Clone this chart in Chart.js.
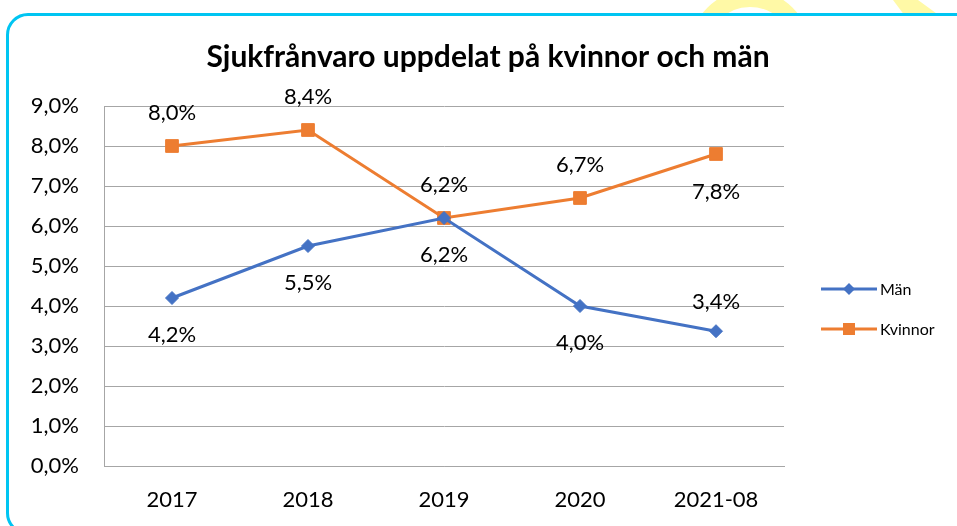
<!DOCTYPE html>
<html>
<head>
<meta charset="utf-8">
<script src="https://cdn.jsdelivr.net/npm/chart.js@4.4.1/dist/chart.umd.min.js"></script>
<style>
  html, body { margin: 0; padding: 0; background: #fff; overflow: hidden; }
  #wrap { position: relative; width: 957px; height: 526px; overflow: hidden; background: #fff; }
  .ring { position: absolute; left: 690px; top: -10px; width: 120px; height: 120px; border-radius: 50%;
          border: 17px solid #fff9a6; box-sizing: border-box; }
  .band { position: absolute; left: 880px; top: 0; width: 77px; height: 20px; background: #fff9a6;
          clip-path: polygon(13px 0, 38px 0, 60px 16px, 25px 16px); }
  #box { position: absolute; left: 6px; top: 13px; width: 975px; height: 522px; border: 3px solid #00c5f2;
         border-radius: 22px; background: #fff; box-sizing: border-box; }
  canvas { position: absolute; left: 0; top: 0; }
</style>
</head>
<body>
<div id="wrap">
  <div class="ring"></div>
  <div class="band"></div>
  <div id="box"></div>
  <canvas id="chart" width="957" height="526"></canvas>
</div>
<script>
const title = 'Sjukfrånvaro uppdelat på kvinnor och män';
const years = ['2017', '2018', '2019', '2020', '2021-08'];
const man = [4.2, 5.5, 6.2, 4.0, 3.37];
const kvinnor = [8.0, 8.4, 6.2, 6.7, 7.8];
const manPlace = ['below', 'below', 'below', 'below', 'above'];
const kvinnorPlace = ['above', 'above', 'above', 'above', 'below'];
const yTicks = [0, 1, 2, 3, 4, 5, 6, 7, 8, 9];

const FONT = 'Lato, "Open Sans", sans-serif';
const BLUE = '#4472c4';
const ORANGE = '#ed7d31';

function pct(v) { return v.toFixed(1).replace('.', ',') + '%'; }

// etiketter, titel och legend ritas här
const extras = {
  id: 'extras',
  afterDatasetsDraw(chart) {
    const ctx = chart.ctx;
    ctx.save();
    ctx.fillStyle = '#000';
    ctx.font = '22px ' + FONT;
    ctx.textAlign = 'center';
    ctx.textBaseline = 'middle';
    chart.data.datasets.forEach((ds, i) => {
      const meta = chart.getDatasetMeta(i);
      meta.data.forEach((pt, j) => {
        const up = ds.place[j] === 'above';
        const dy = up ? -ds.upOff : ds.downOff;
        ctx.fillText(pct(ds.data[j]), pt.x, pt.y + dy);
      });
    });

    ctx.font = 'bold 30px ' + FONT;
    ctx.fillText(title, 488, 57);

    // legend
    const items = [
      { label: 'Män', color: BLUE, shape: 'diamond', y: 289 },
      { label: 'Kvinnor', color: ORANGE, shape: 'square', y: 329 }
    ];
    ctx.font = '16px ' + FONT;
    ctx.textAlign = 'left';
    items.forEach(it => {
      ctx.strokeStyle = it.color;
      ctx.fillStyle = it.color;
      ctx.lineWidth = 3;
      ctx.beginPath();
      ctx.moveTo(821, it.y);
      ctx.lineTo(877, it.y);
      ctx.stroke();
      ctx.beginPath();
      if (it.shape === 'diamond') {
        ctx.moveTo(849 - 6, it.y); ctx.lineTo(849, it.y - 6);
        ctx.lineTo(849 + 6, it.y); ctx.lineTo(849, it.y + 6);
        ctx.closePath();
        ctx.fill();
      } else {
        ctx.fillRect(843, it.y - 6, 12, 12);
      }
      ctx.fillStyle = '#000';
      ctx.fillText(it.label, 880, it.y + 1);
    });
    ctx.restore();
  }
};

new Chart(document.getElementById('chart'), {
  type: 'line',
  data: {
    labels: years,
    datasets: [
      {
        label: 'Män', data: man, place: manPlace, upOff: 29, downOff: 37,
        borderColor: BLUE, backgroundColor: BLUE, borderWidth: 3,
        pointStyle: 'rectRot', pointRadius: 6.5, pointBorderWidth: 1,
        pointBackgroundColor: BLUE, pointBorderColor: BLUE, tension: 0
      },
      {
        label: 'Kvinnor', data: kvinnor, place: kvinnorPlace, upOff: 33, downOff: 38,
        borderColor: ORANGE, backgroundColor: ORANGE, borderWidth: 3,
        pointStyle: 'rect', pointRadius: 9, pointBorderWidth: 1,
        pointBackgroundColor: ORANGE, pointBorderColor: ORANGE, tension: 0
      }
    ]
  },
  options: {
    responsive: false,
    animation: false,
    layout: { padding: { top: 106, right: 173, left: 0, bottom: 0 } },
    plugins: {
      legend: { display: false },
      title: { display: false },
      tooltip: { enabled: false }
    },
    scales: {
      x: {
        offset: true,
        grid: { display: false, drawTicks: false },
        border: { display: true, color: '#a6a6a6', width: 1 },
        ticks: { color: '#000', font: { family: FONT, size: 22 }, padding: 21, maxRotation: 0 },
        afterFit(s) { s.height = 60; }
      },
      y: {
        min: 0, max: 9,
        afterBuildTicks(s) { s.ticks = yTicks.map(v => ({ value: v })); },
        grid: { color: '#a6a6a6', lineWidth: 1, drawTicks: false },
        border: { display: true, color: '#a6a6a6', width: 1 },
        ticks: { color: '#000', font: { family: FONT, size: 22 }, padding: 25, callback: v => pct(v) },
        afterFit(s) { s.width = 104; }
      }
    }
  },
  plugins: [extras]
});
</script>
</body>
</html>
